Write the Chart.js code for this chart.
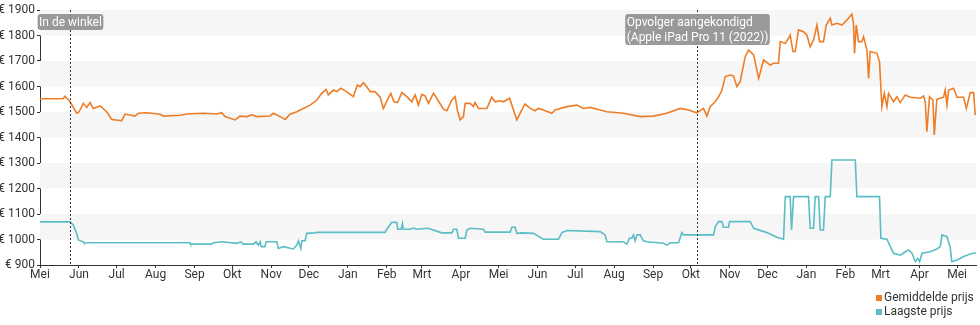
<!DOCTYPE html>
<html lang="nl">
<head>
<meta charset="utf-8">
<title>Prijsverloop Apple iPad Pro 11 (2021)</title>
<script src="https://cdn.jsdelivr.net/npm/chart.js@4.4.1/dist/chart.umd.min.js"></script>
<style>
  html, body { margin: 0; padding: 0; background: #fff; }
  #wrap { width: 980px; height: 325px; position: relative; }
</style>
</head>
<body>
<div id="wrap"><canvas id="priceChart"></canvas></div>
<script>
// Dagen vanaf 1 mei 2021 met de prijs op dat moment
const avgDays = [0, 18.3, 19.9, 23.9, 29.2, 31, 34.5, 37.2, 39.8, 42.4, 47.8, 53.1, 57.1, 65, 67.7, 75.6, 78.3, 85, 95.5, 98.2,
  111.5, 116.8, 130, 140.7, 144.7, 147.3, 155.3, 159.2, 164.6, 168.6, 172.5, 183.1, 185.8, 191.1, 195.1, 199, 204.4, 209.6, 215, 220.3,
  224.3, 227.7, 229.5, 233.5, 236.2, 239.4, 242.8, 249.4, 252.6, 254.8, 257.4, 260.1, 262.7, 266.7, 270.7, 273.3, 276.5, 279.2, 281.8, 284.5,
  288, 292, 295.9, 298.6, 301.2, 303.9, 306.5, 309.2, 313.1, 315.8, 321.1, 323.8, 327.8, 330.4, 332.2, 334.4, 337, 338.4, 342.4, 345,
  346.3, 349, 355.7, 359.6, 362.3, 366.2, 368.9, 373.7, 375.6, 379.5, 383.5, 386.1, 390.1, 394.1, 396.7, 400.7, 407.4, 410, 419.3, 427.3,
  432.6, 437.9, 445.9, 451.2, 464.4, 477.7, 488.3, 498.9, 509.6, 516.2, 522.8, 528.1, 530.8, 533.4, 537.4, 540, 542.8, 545.4, 549.4, 552,
  554.7, 557.3, 561.3, 564, 568, 572, 575.9, 581.2, 583.9, 587.8, 589.2, 593.2, 595.8, 597.1, 599.3, 601.1, 603.7, 607.7, 610.4, 613,
  615.7, 618.4, 620.5, 623.6, 625.8, 629, 630.3, 634.3, 638.3, 642.3, 646.2, 647.5, 648.3, 649.7, 651.5, 654.2, 655.5, 658.2, 659.5, 660.8,
  666.2, 668.2, 670.1, 672, 674.1, 675.4, 679.4, 682.1, 684.7, 688.7, 692.7, 700.6, 703.3, 704.6, 705.9, 708, 710.7, 711.8, 713.8, 719.2,
  720.5, 721.9, 723.2, 727.2, 729.9, 735.1, 737.3, 740.4, 743.1, 744.4];
const avgPrice = [1552, 1552, 1562, 1540, 1495, 1500, 1534, 1518, 1537, 1514, 1524, 1501, 1471, 1466, 1492, 1484, 1495, 1497, 1491, 1484,
  1487, 1492, 1495, 1492, 1497, 1482, 1469, 1484, 1482, 1489, 1482, 1484, 1495, 1482, 1471, 1491, 1501, 1514, 1527, 1547,
  1573, 1589, 1567, 1586, 1580, 1593, 1584, 1560, 1606, 1599, 1615, 1599, 1580, 1580, 1558, 1514, 1547, 1573, 1540, 1537,
  1576, 1560, 1540, 1567, 1527, 1569, 1563, 1534, 1573, 1554, 1511, 1505, 1547, 1560, 1508, 1469, 1482, 1534, 1534, 1521,
  1537, 1514, 1514, 1558, 1540, 1544, 1540, 1554, 1527, 1469, 1508, 1531, 1514, 1505, 1514, 1508, 1495, 1508, 1521, 1527,
  1514, 1518, 1508, 1501, 1495, 1482, 1484, 1495, 1514, 1508, 1497, 1514, 1484, 1521, 1540, 1558, 1586, 1639, 1645, 1641,
  1599, 1619, 1717, 1743, 1724, 1632, 1704, 1684, 1691, 1691, 1776, 1769, 1789, 1802, 1737, 1737, 1822, 1815, 1802, 1756,
  1782, 1841, 1776, 1776, 1841, 1867, 1841, 1848, 1841, 1861, 1884, 1848, 1730, 1841, 1776, 1776, 1795, 1743, 1632, 1737,
  1730, 1697, 1521, 1573, 1521, 1573, 1540, 1560, 1537, 1567, 1558, 1554, 1563, 1540, 1423, 1560, 1547, 1410, 1550, 1558,
  1586, 1527, 1586, 1593, 1558, 1558, 1514, 1576, 1576, 1488];

const lowDays = [0, 23.9, 26.5, 29.2, 30.5, 34.5, 35, 119.4, 119.8, 136.7, 138, 144.7, 156.6, 159.8, 161.9, 169.8, 172, 173.8, 175.2, 176,
  179.1, 179.9, 188.5, 189.7, 193.7, 201.7, 204.4, 205.7, 207.6, 208.4, 211, 212.3, 219, 220.3, 274.7, 276, 280, 284, 284.8, 287.4,
  288.5, 289.2, 294.6, 297.2, 299.9, 308.9, 319.8, 327.8, 329.1, 331.8, 333, 338.4, 339.7, 342.4, 352.9, 354.3, 374.2, 375.6, 378.2, 379.5,
  383.5, 392.8, 395.5, 400.7, 412.7, 415.4, 419.3, 445.9, 449.8, 451.2, 464.4, 467.1, 469.2, 471.1, 472.4, 473.7, 475.1, 477.7, 480.3, 483,
  496.3, 498.9, 501.6, 508.2, 510.9, 512.2, 536.1, 537.4, 540.1, 542.8, 544, 548, 548.8, 565.3, 568, 578.6, 586.5, 591.8, 593.2, 597.1,
  598.2, 599.8, 611.7, 613, 615.7, 617, 619.7, 621, 623.6, 625, 629, 630.3, 648.9, 650.2, 668.2, 669.3, 674.1, 676.8, 679.4, 684.7,
  688.7, 691.3, 694, 696.7, 698.5, 700.1, 702, 708.6, 713.9, 716.6, 717.9, 721.9, 724.4, 725.7, 729.9, 735.2, 740.4, 745];
const lowPrice = [1069, 1069, 1057, 1024, 998, 991, 987, 987, 982, 982, 987, 991, 985, 991, 982, 982, 991, 978, 991, 972,
  972, 991, 991, 965, 972, 963, 978, 995, 965, 995, 995, 1024, 1026, 1028, 1028, 1040, 1067, 1067, 1040, 1040,
  1063, 1040, 1040, 1045, 1040, 1044, 1026, 1026, 1040, 1040, 1005, 1005, 1037, 1044, 1040, 1029, 1029, 1048, 1048, 1024,
  1026, 1024, 1016, 1001, 1001, 1027, 1035, 1031, 1018, 991, 991, 982, 1005, 1005, 1018, 995, 1018, 1018, 995, 991,
  985, 978, 987, 987, 1027, 1018, 1018, 1050, 1070, 1070, 1048, 1048, 1070, 1070, 1044, 1027, 1009, 1001, 1168, 1168,
  1037, 1168, 1168, 1044, 1044, 1168, 1168, 1037, 1037, 1168, 1168, 1312, 1312, 1168, 1168, 1005, 1001, 972, 946, 939,
  952, 959, 946, 913, 926, 913, 946, 952, 963, 972, 1018, 1011, 972, 913, 920, 933, 943, 948];

// Maandgrenzen (dagen vanaf 1 mei 2021) en hun labels
const monthStarts = [0, 31, 61, 92, 123, 153, 184, 214, 245, 276, 304, 335, 365, 396, 426, 457, 488, 518, 549, 579, 610, 641, 669, 700, 730];
const monthLabels = ['Mei', 'Jun', 'Jul', 'Aug', 'Sep', 'Okt', 'Nov', 'Dec', 'Jan', 'Feb', 'Mrt', 'Apr',
  'Mei', 'Jun', 'Jul', 'Aug', 'Sep', 'Okt', 'Nov', 'Dec', 'Jan', 'Feb', 'Mrt', 'Apr', 'Mei'];

// Gebeurtenissen met verticale stippellijn
const eventDays = [23.5, 523];
const eventLabels = [['In de winkel'], ['Opvolger aangekondigd', '(Apple iPad Pro 11 (2022))']];

const seriesNames = ['Gemiddelde prijs', 'Laagste prijs'];
const seriesColors = ['#ee7d28', '#5bbdc5'];

const FONT = 'Roboto, "Noto Sans", sans-serif';
const TEXT = '#333333';

const toPoints = (xs, ys) => xs.map((x, i) => ({ x: x, y: ys[i] }));

// grijze banden om de 100 euro
const bandsPlugin = {
  id: 'bands',
  beforeDatasetsDraw(chart) {
    const { ctx, chartArea, scales } = chart;
    const y = scales.y;
    ctx.save();
    ctx.fillStyle = '#f6f6f6';
    for (let v = 1000; v < 1900; v += 200) {
      const top = y.getPixelForValue(v + 100);
      const bottom = y.getPixelForValue(v);
      ctx.fillRect(chartArea.left, top, chartArea.right - chartArea.left, bottom - top);
    }
    ctx.restore();
  }
};

// stippellijnen met label
const eventsPlugin = {
  id: 'events',
  afterDatasetsDraw(chart) {
    const { ctx, chartArea, scales } = chart;
    ctx.save();
    eventDays.forEach((d, i) => {
      const x = Math.round(scales.x.getPixelForValue(d)) + 0.5;
      ctx.strokeStyle = '#333';
      ctx.lineWidth = 1;
      ctx.setLineDash([2, 2]);
      ctx.beginPath();
      ctx.moveTo(x, chartArea.top);
      ctx.lineTo(x, chartArea.bottom);
      ctx.stroke();
      ctx.setLineDash([]);

      const lines = eventLabels[i];
      ctx.font = '12px ' + FONT;
      const w = Math.max(...lines.map(l => ctx.measureText(l).width)) + 3;
      const lh = 15;
      const h = lines.length * lh + 1;
      const bx = x - w / 2;
      const by = chartArea.top + 4;
      ctx.fillStyle = 'rgba(140,140,140,0.88)';
      ctx.beginPath();
      ctx.roundRect(bx, by, w, h, 3);
      ctx.fill();
      ctx.fillStyle = '#fff';
      ctx.textBaseline = 'middle';
      ctx.textAlign = 'left';
      lines.forEach((l, j) => ctx.fillText(l, bx + 1.5, by + lh / 2 + 1 + j * lh));
    });
    ctx.restore();
  }
};

// legenda rechtsonder, items onder elkaar
const legendPlugin = {
  id: 'stackedLegend',
  afterDraw(chart) {
    const { ctx } = chart;
    ctx.save();
    ctx.font = '12px ' + FONT;
    ctx.textBaseline = 'middle';
    ctx.textAlign = 'left';
    chart.data.datasets.forEach((ds, i) => {
      const cy = 298 + i * 14;
      ctx.fillStyle = ds.borderColor;
      ctx.fillRect(876, cy - 3, 6, 6);
      ctx.fillStyle = TEXT;
      ctx.fillText(ds.label, 884, cy);
    });
    ctx.restore();
  }
};

const ctx = document.getElementById('priceChart').getContext('2d');

new Chart(ctx, {
  type: 'line',
  data: {
    datasets: [
      {
        label: seriesNames[0],
        data: toPoints(avgDays, avgPrice),
        borderColor: seriesColors[0],
        backgroundColor: seriesColors[0],
        borderWidth: 1.6,
        pointRadius: 0,
        tension: 0,
        fill: false
      },
      {
        label: seriesNames[1],
        data: toPoints(lowDays, lowPrice),
        borderColor: seriesColors[1],
        backgroundColor: seriesColors[1],
        borderWidth: 1.6,
        pointRadius: 0,
        tension: 0,
        fill: false
      }
    ]
  },
  options: {
    responsive: true,
    maintainAspectRatio: false,
    animation: false,
    layout: { padding: { top: 10, right: 4, bottom: 40, left: 0 } },
    plugins: {
      legend: { display: false },
      tooltip: { enabled: false }
    },
    scales: {
      x: {
        type: 'linear',
        min: 0,
        max: 745,
        afterBuildTicks: (scale) => { scale.ticks = monthStarts.map(v => ({ value: v })); },
        afterFit: (scale) => { scale.height = 20; },
        grid: { drawOnChartArea: false, tickLength: 3, tickColor: '#333' },
        border: { color: '#333', width: 1 },
        ticks: {
          autoSkip: false,
          maxRotation: 0,
          padding: 0,
          color: TEXT,
          font: { family: FONT, size: 12 },
          callback: (v) => monthLabels[monthStarts.indexOf(v)]
        }
      },
      y: {
        min: 900,
        max: 1900,
        afterFit: (scale) => { scale.width = 40; },
        grid: { drawOnChartArea: false, tickLength: 3, tickColor: '#333' },
        border: { color: '#333', width: 1 },
        ticks: {
          stepSize: 100,
          padding: 2,
          color: TEXT,
          font: { family: FONT, size: 12 },
          callback: (v) => '€ ' + v
        }
      }
    }
  },
  plugins: [bandsPlugin, eventsPlugin, legendPlugin]
});
</script>
</body>
</html>
